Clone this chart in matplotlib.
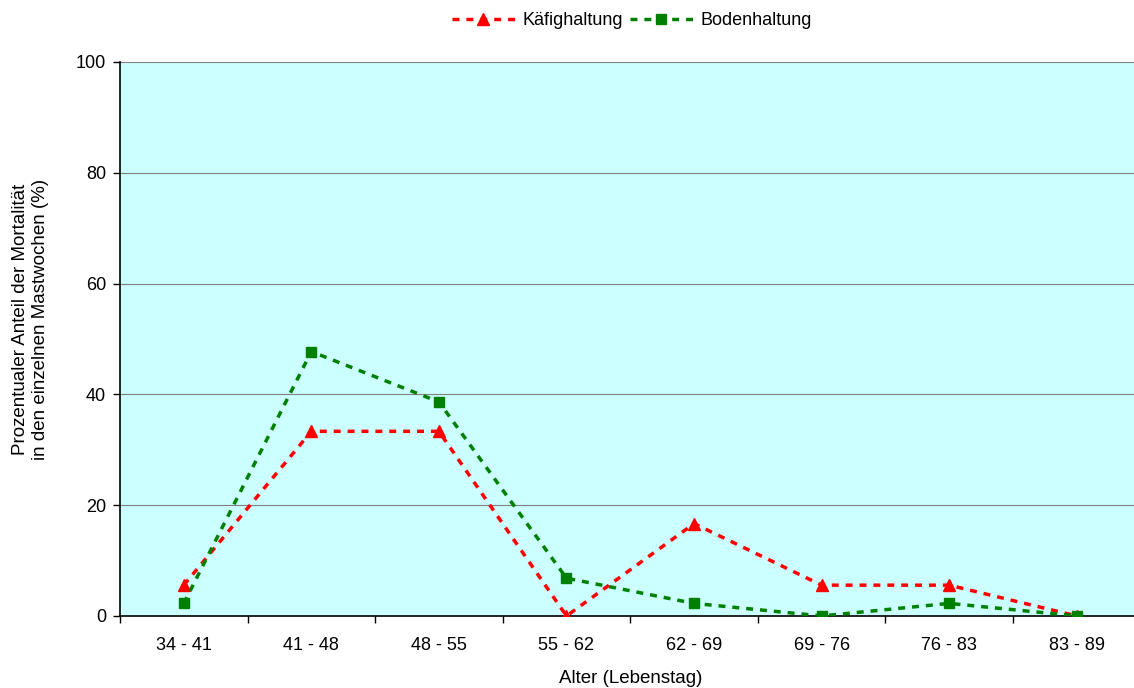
import numpy as np
import matplotlib.pyplot as plt

plt.rcParams['font.family'] = ['Liberation Sans', 'DejaVu Sans']

# age classes (days of life) and share of mortality per fattening week
alter = ['34 - 41', '41 - 48', '48 - 55', '55 - 62', '62 - 69', '69 - 76', '76 - 83', '83 - 89']
kaefig = [5.56, 33.33, 33.33, 0.0, 16.67, 5.56, 5.56, 0.0]
boden = [2.27, 47.73, 38.64, 6.82, 2.27, 0.0, 2.27, 0.0]

fig = plt.figure(figsize=(11.34, 6.88), dpi=100)
ax = fig.add_axes([0.1058, 0.1047, 0.9, 0.8052])
ax.set_facecolor('#ccffff')

x = np.arange(len(alter))
ax.plot(x, kaefig, color='#ff0000', ls=(0, (2, 2)), lw=2.5, marker='^', ms=8,
        label='Käfighaltung', zorder=3)
ax.plot(x, boden, color='#008000', ls=(0, (2, 2)), lw=2.5, marker='s', ms=7,
        label='Bodenhaltung', zorder=3)

ax.set_xlim(-0.5, len(alter) - 0.5)
ax.set_ylim(0, 100)
ax.set_yticks(np.arange(0, 101, 20))
ax.set_xticks(x)
ax.set_xticklabels(alter)
ax.set_xticks(np.arange(-0.5, len(alter), 1), minor=True)
ax.tick_params(axis='x', which='major', length=0, pad=15)
ax.tick_params(axis='x', which='minor', length=5, width=1)
ax.tick_params(axis='y', length=5, width=1, pad=5)
ax.tick_params(labelsize=13)

for v in [20, 40, 60, 80, 100]:
    ax.axhline(v, color='#808080', lw=0.8, zorder=1)

for s in ['top', 'right']:
    ax.spines[s].set_visible(False)
ax.spines['left'].set_linewidth(1.2)
ax.spines['bottom'].set_linewidth(1.2)

ax.set_xlabel('Alter (Lebenstag)', fontsize=13.5, labelpad=12)
ax.set_ylabel('Prozentualer Anteil der Mortalität\nin den einzelnen Mastwochen (%)',
              fontsize=13.5)
ax.yaxis.set_label_coords(-0.070, 0.535)

fig.legend(loc='upper center', bbox_to_anchor=(0.557, 1.006), ncol=2, frameon=False,
           fontsize=13, handlelength=3.5, columnspacing=0.4, handletextpad=0.4)

fig.savefig('out.png', dpi=100)
